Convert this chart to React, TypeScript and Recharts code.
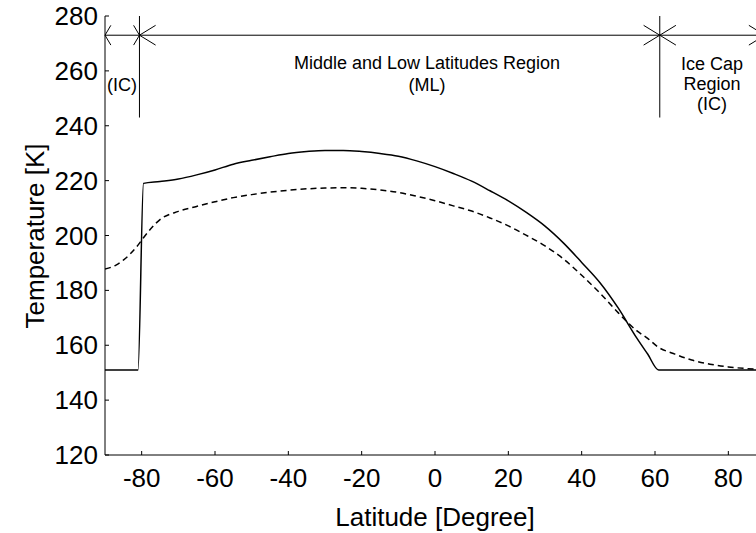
import React from "react";
import {
  LineChart,
  Line,
  XAxis,
  YAxis,
  ReferenceLine
} from "recharts";

// latitude grid (degrees) shared by both profiles
const latitudes = [
  -90, -87, -85, -81, -79.5, -75, -70, -65, -60, -55, -50, -45, -40, -35, -30,
  -25, -20, -15, -10, -5, 0, 5, 10, 15, 20, 25, 30, 35, 40, 45, 50, 55, 58, 61,
  65, 70, 75, 80, 85, 90
];

// solid profile [K]
const solidTemp = [
  151, 151, 151, 151, 219, 219.7, 220.6, 222.1, 223.9, 226, 227.4, 228.7, 229.9,
  230.6, 231, 231, 230.6, 229.9, 228.9, 227.2, 225.1, 222.6, 219.8, 216.3, 212.6,
  208.3, 203.4, 197.3, 190.2, 182.8, 173.5, 162.7, 156.8, 151, 151, 151, 151, 151,
  151, 151
];

// dashed profile [K]
const dashedTemp = [
  187.8, 189.2, 191, 196.5, 199.2, 205.8, 208.8, 210.6, 212.3, 213.8, 214.9,
  215.8, 216.5, 217, 217.3, 217.4, 217.2, 216.6, 215.7, 214.3, 212.7, 210.8,
  208.9, 206.4, 203.5, 200, 196.2, 191.5, 185.5, 179, 171.8, 165.3, 162.5, 159.2,
  157, 154.6, 153.1, 152.1, 151.5, 151.2
];

const xTicks = [-80, -60, -40, -20, 0, 20, 40, 60, 80];
const yTicks = [120, 140, 160, 180, 200, 220, 240, 260, 280];

// region boundaries along latitude, and the level of the dimension arrows
const regionEdges = [-90, -80.6, 61.3, 90];
const arrowLevel = 273;
const dividerBottom = 243;

const data = latitudes.map((lat, i) => ({
  lat,
  solid: solidTemp[i],
  dashed: dashedTemp[i]
}));

const FONT = "'Liberation Sans', Arial, sans-serif";

const BottomTick = (props: any) => {
  const { x, y, payload } = props;
  return (
    <g>
      <line x1={x} y1={y} x2={x} y2={y - 4} stroke="#000" />
      <text x={x} y={y + 32} textAnchor="middle" fontSize={26} fontFamily={FONT} fill="#000">
        {payload.value}
      </text>
    </g>
  );
};

const TopTick = (props: any) => {
  const { x, y } = props;
  return <line x1={x} y1={y} x2={x} y2={y + 4} stroke="#000" />;
};

const LeftTick = (props: any) => {
  const { x, y, payload } = props;
  return (
    <g>
      <line x1={x} y1={y} x2={x + 4} y2={y} stroke="#000" />
      <text x={x - 7} y={y + 9} textAnchor="end" fontSize={26} fontFamily={FONT} fill="#000">
        {payload.value}
      </text>
    </g>
  );
};

// arrow heads for each region span, pointing outward to the region edges
const arrowSegments: { x1: number; y1: number; x2: number; y2: number }[] = [];
for (let i = 0; i < regionEdges.length - 1; i++) {
  const a = regionEdges[i];
  const b = regionEdges[i + 1];
  const len = Math.min(4.4, (b - a) * 0.17);
  for (const dy of [-3.6, 3.6]) {
    arrowSegments.push({ x1: a, y1: arrowLevel, x2: a + len, y2: arrowLevel + dy });
    arrowSegments.push({ x1: b, y1: arrowLevel, x2: b - len, y2: arrowLevel + dy });
  }
}

export default function App() {
  return (
    <div style={{ position: "absolute", left: 0, top: 0, width: 756, height: 533, overflow: "hidden", background: "#fff" }}>
      <LineChart
        width={780}
        height={533}
        data={data}
        margin={{ top: 16, right: 15, left: 0, bottom: 38 }}
      >
        <XAxis
          dataKey="lat"
          type="number"
          domain={[-90, 90]}
          ticks={xTicks}
          allowDataOverflow
          height={40}
          tickSize={0}
          tickMargin={0}
          tick={<BottomTick />}
          axisLine={{ stroke: "#000" }}
        />
        <XAxis
          xAxisId="top"
          orientation="top"
          dataKey="lat"
          type="number"
          domain={[-90, 90]}
          ticks={xTicks}
          height={0}
          tickSize={0}
          tickMargin={0}
          tick={<TopTick />}
          axisLine={{ stroke: "#000" }}
        />
        <YAxis
          type="number"
          domain={[120, 280]}
          ticks={yTicks}
          width={105}
          tickSize={0}
          tickMargin={0}
          tick={<LeftTick />}
          axisLine={{ stroke: "#000" }}
        />

        {/* region dividers and dimension arrows */}
        <ReferenceLine
          segment={[{ x: regionEdges[0], y: arrowLevel }, { x: regionEdges[3], y: arrowLevel }]}
          stroke="#000"
          strokeWidth={1}
          ifOverflow="visible"
        />
        {regionEdges.slice(1, 3).map((e) => (
          <ReferenceLine
            key={"div" + e}
            segment={[{ x: e, y: 280 }, { x: e, y: dividerBottom }]}
            stroke="#000"
            strokeWidth={1}
            ifOverflow="visible"
          />
        ))}
        {arrowSegments.map((s, i) => (
          <ReferenceLine
            key={"arr" + i}
            segment={[{ x: s.x1, y: s.y1 }, { x: s.x2, y: s.y2 }]}
            stroke="#000"
            strokeWidth={1}
            ifOverflow="visible"
          />
        ))}

        <Line
          type="monotone"
          dataKey="solid"
          stroke="#000"
          strokeWidth={1.5}
          dot={false}
          isAnimationActive={false}
        />
        <Line
          type="monotone"
          dataKey="dashed"
          stroke="#000"
          strokeWidth={1.5}
          strokeDasharray="6 4"
          dot={false}
          isAnimationActive={false}
        />

        <text x={122} y={91} textAnchor="middle" fontSize={18} fontFamily={FONT} fill="#000">(IC)</text>
        <text x={427} y={69} textAnchor="middle" fontSize={18} fontFamily={FONT} fill="#000">
          Middle and Low Latitudes Region
        </text>
        <text x={427} y={91} textAnchor="middle" fontSize={18} fontFamily={FONT} fill="#000">(ML)</text>
        <text x={712} y={70} textAnchor="middle" fontSize={18} fontFamily={FONT} fill="#000">Ice Cap</text>
        <text x={712} y={90} textAnchor="middle" fontSize={18} fontFamily={FONT} fill="#000">Region</text>
        <text x={712} y={110} textAnchor="middle" fontSize={18} fontFamily={FONT} fill="#000">(IC)</text>

        <text x={435} y={526} textAnchor="middle" fontSize={26} fontFamily={FONT} fill="#000">
          Latitude [Degree]
        </text>
        <text
          x={44}
          y={236}
          textAnchor="middle"
          fontSize={26}
          fontFamily={FONT}
          fill="#000"
          transform="rotate(-90 44 236)"
        >
          Temperature [K]
        </text>
      </LineChart>
    </div>
  );
}
